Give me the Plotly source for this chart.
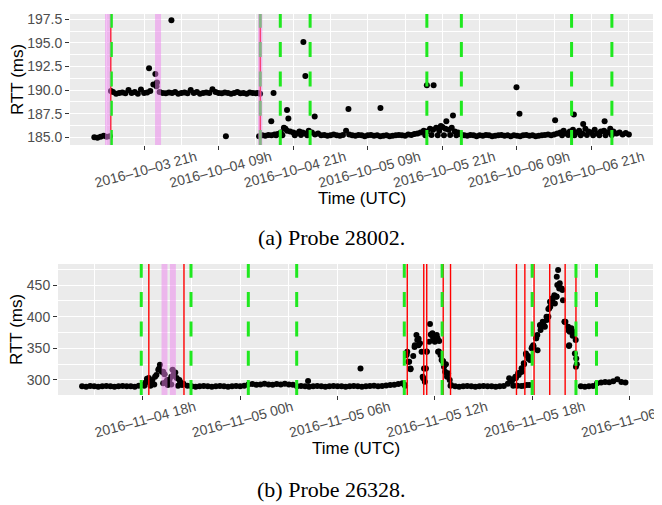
import pandas as pd
import plotly.graph_objects as go

# ---------------- Probe 28002 (panel a) ----------------
a_start = "2016-10-03 13:00"          # regular 30-min samples
a_rtt = [
    185.0, 184.95, 185.05, 185.15, 185.05, 185.1,
    189.8, 189.6, 189.7, 189.75, 189.65, 190.0, 189.7, 189.8, 189.6, 190.05,
    189.7, 189.75, 189.9, 190.6, 190.4, 189.8, 189.7, 189.65, 189.75, 189.7,
    189.8, 189.6, 189.7, 189.75, 189.65, 190.0, 189.7, 189.8, 189.6, 189.7,
    189.75, 189.7, 190.1, 189.8, 189.7, 189.65, 189.75, 189.7, 189.6, 189.7,
    189.8, 189.65, 189.7, 189.6, 189.75, 189.7, 189.65,
    185.1, 185.2, 185.15, 185.25, 185.2, 185.3, 185.35,
    185.5, 186.0, 185.7, 185.6, 185.5, 185.4, 185.6, 185.5, 185.4, 185.7, 185.5, 185.3, 185.4,
    185.2, 185.25, 185.15, 185.2, 185.3, 185.2, 185.15, 185.25, 185.7, 185.3, 185.2,
    185.15, 185.25, 185.2, 185.1, 185.2, 185.25, 185.15, 185.2, 185.1, 185.15, 185.2,
    185.1, 185.15, 185.2, 185.25, 185.2, 185.15, 185.3, 185.25, 185.35, 185.4, 185.5,
    185.7, 185.6, 185.9, 185.8, 186.0, 185.7, 186.1, 185.9, 185.8, 186.0, 185.6, 185.5, 185.3,
    185.2, 185.15, 185.25, 185.2, 185.1, 185.2, 185.15, 185.25, 185.2, 185.1, 185.15,
    185.2, 185.25, 185.15, 185.2, 185.1, 185.2, 185.15, 185.1, 185.2, 185.25, 185.15,
    185.2, 185.1, 185.15, 185.2, 185.25, 185.3, 185.2, 185.3, 185.4,
    185.5, 185.7, 185.4, 185.6, 185.8, 185.5, 185.7, 185.4, 185.9, 185.6,
    185.5, 185.8, 185.4, 185.6, 185.7, 185.5, 185.9, 185.6, 185.4, 185.5,
    185.3, 185.45, 185.3,
]
a_extra_time = [
    "2016-10-03 15:40", "2016-10-03 21:48", "2016-10-03 22:49", "2016-10-03 23:05",
    "2016-10-04 01:24", "2016-10-04 10:10", "2016-10-04 15:20", "2016-10-04 15:40",
    "2016-10-04 17:28", "2016-10-04 17:50", "2016-10-04 18:15", "2016-10-04 19:15",
    "2016-10-04 19:45", "2016-10-04 20:00", "2016-10-04 20:13", "2016-10-04 21:15",
    "2016-10-04 22:15", "2016-10-04 22:38", "2016-10-04 22:57", "2016-10-04 23:15",
    "2016-10-05 00:27", "2016-10-05 05:53", "2016-10-05 11:02", "2016-10-05 18:15",
    "2016-10-05 18:30", "2016-10-05 19:15", "2016-10-05 19:35", "2016-10-05 20:15",
    "2016-10-05 20:45", "2016-10-05 21:15", "2016-10-05 21:38", "2016-10-05 22:15",
    "2016-10-05 22:42", "2016-10-05 23:15", "2016-10-06 08:55", "2016-10-06 09:24",
    "2016-10-06 15:08", "2016-10-06 16:15", "2016-10-06 17:15", "2016-10-06 18:09",
    "2016-10-06 18:15", "2016-10-06 19:15", "2016-10-06 19:39", "2016-10-06 20:15",
    "2016-10-06 21:15", "2016-10-06 22:15", "2016-10-06 23:06", "2016-10-06 23:15",
    "2016-10-07 00:15",
]
a_extra_rtt = [
    189.9, 192.3, 191.7, 190.8,
    197.4, 185.1, 189.7, 189.6,
    186.7, 189.7, 185.2, 185.2,
    185.9, 187.9, 187.0, 185.2,
    185.25, 195.1, 191.5, 185.2,
    187.2, 188.0, 188.1, 185.2,
    190.5, 185.25, 190.5, 185.2,
    186.2, 185.2, 186.7, 185.25,
    187.3, 185.2, 190.3, 187.5,
    186.8, 185.2, 185.25, 187.4,
    185.2, 185.2, 186.4, 185.25,
    185.2, 185.2, 186.7, 185.2,
    185.25,
]
a_green = ["2016-10-03 15:44", "2016-10-04 15:42", "2016-10-04 18:55", "2016-10-04 23:43",
           "2016-10-05 18:30", "2016-10-06 00:03", "2016-10-06 17:47", "2016-10-07 00:16"]
a_red = ["2016-10-03 15:38", "2016-10-04 15:42"]
a_pink_start = ["2016-10-03 14:43", "2016-10-03 22:46", "2016-10-04 15:20"]
a_pink_end = ["2016-10-03 15:38", "2016-10-03 23:44", "2016-10-04 16:02"]
a_range = ["2016-10-03 09:05", "2016-10-07 06:53"]
a_yrange = [184.18, 198.06]

# ---------------- Probe 26328 (panel b) ----------------
b_start = "2016-11-04 14:15"          # regular 15-min samples
b_rtt = [
    290, 289.5, 290.5, 290, 289.5, 290, 290.5, 290, 289.5, 290, 290.5, 290, 290, 289.5, 291,
    292, 302, 297, 305, 318, 313, 300, 305, 312, 300, 294, 291,
    290, 289.5, 290, 290.5, 290, 289.5, 290, 290.5, 290, 289.5, 290, 290.5, 290, 291,
    293, 293.5, 292.5, 293, 294, 293, 292.5, 293.5, 293, 294, 293, 292.5,
    290, 290.5, 290, 289.5, 290, 290.5, 290, 289.5, 290, 290.5, 290, 290, 289.5,
    290, 290.5, 290, 289.5, 290, 290.5, 291, 290, 290.5, 291.5, 292, 292.5, 293.5,
    295, 340, 318, 352, 365, 305, 345, 372, 362, 345, 330, 310,
    292, 290, 289.5, 290, 290.5, 290, 289.5, 290, 290.5, 290, 290, 289.5, 290, 290.5, 294, 298, 303,
    312, 325, 338, 352, 366, 386, 385, 412, 428, 432, 445, 392, 378, 370, 325,
    290, 289.5, 290, 290.5, 295,
    296, 297, 296.5, 298, 301, 297, 296,
]
b_extra_time = [
    "2016-11-04 18:05", "2016-11-04 18:10", "2016-11-04 18:22", "2016-11-04 18:28",
    "2016-11-04 18:35", "2016-11-04 18:42", "2016-11-04 18:50", "2016-11-04 18:57",
    "2016-11-04 19:03", "2016-11-04 19:10", "2016-11-04 19:15", "2016-11-04 19:20",
    "2016-11-04 19:25", "2016-11-04 19:32", "2016-11-04 19:38", "2016-11-04 19:45",
    "2016-11-04 19:50", "2016-11-04 19:55", "2016-11-04 20:05", "2016-11-04 20:10",
    "2016-11-04 20:18", "2016-11-04 20:25",
    "2016-11-05 04:11", "2016-11-05 07:25",
    "2016-11-05 10:07", "2016-11-05 10:10", "2016-11-05 10:15", "2016-11-05 10:18",
    "2016-11-05 10:22", "2016-11-05 10:25", "2016-11-05 10:30", "2016-11-05 10:40",
    "2016-11-05 10:46", "2016-11-05 10:52", "2016-11-05 10:55", "2016-11-05 11:00",
    "2016-11-05 11:05", "2016-11-05 11:11", "2016-11-05 11:17", "2016-11-05 11:20",
    "2016-11-05 11:23", "2016-11-05 11:27", "2016-11-05 11:30", "2016-11-05 11:39",
    "2016-11-05 11:42", "2016-11-05 11:48", "2016-11-05 11:51", "2016-11-05 11:54",
    "2016-11-05 12:00", "2016-11-05 12:07", "2016-11-05 12:10", "2016-11-05 12:12",
    "2016-11-05 12:16", "2016-11-05 12:21", "2016-11-05 12:25", "2016-11-05 12:31",
    "2016-11-05 12:34", "2016-11-05 12:38", "2016-11-05 12:41", "2016-11-05 12:45",
    "2016-11-05 12:49", "2016-11-05 12:55", "2016-11-05 12:58",
    "2016-11-05 16:35", "2016-11-05 16:50", "2016-11-05 16:56", "2016-11-05 16:58",
    "2016-11-05 17:05", "2016-11-05 17:08", "2016-11-05 17:10", "2016-11-05 17:20",
    "2016-11-05 17:21", "2016-11-05 17:22", "2016-11-05 17:29", "2016-11-05 17:30",
    "2016-11-05 17:37", "2016-11-05 17:38", "2016-11-05 17:40", "2016-11-05 17:46",
    "2016-11-05 17:50", "2016-11-05 17:52", "2016-11-05 17:58", "2016-11-05 18:04",
    "2016-11-05 18:05", "2016-11-05 18:14", "2016-11-05 18:19", "2016-11-05 18:20",
    "2016-11-05 18:29", "2016-11-05 18:31", "2016-11-05 18:39", "2016-11-05 18:41",
    "2016-11-05 18:47", "2016-11-05 18:53", "2016-11-05 18:54", "2016-11-05 19:00",
    "2016-11-05 19:03", "2016-11-05 19:06", "2016-11-05 19:07", "2016-11-05 19:14",
    "2016-11-05 19:15", "2016-11-05 19:22", "2016-11-05 19:24", "2016-11-05 19:30",
    "2016-11-05 19:31", "2016-11-05 19:33", "2016-11-05 19:36", "2016-11-05 19:40",
    "2016-11-05 19:42", "2016-11-05 19:49", "2016-11-05 19:52", "2016-11-05 19:54",
    "2016-11-05 20:00", "2016-11-05 20:03", "2016-11-05 20:13", "2016-11-05 20:16",
    "2016-11-05 20:17", "2016-11-05 20:19", "2016-11-05 20:25", "2016-11-05 20:31",
    "2016-11-05 20:34", "2016-11-05 20:38", "2016-11-05 20:41", "2016-11-05 20:42",
    "2016-11-05 20:43",
]
b_extra_rtt = [
    291, 296, 303, 291,
    300, 293, 308, 316,
    324, 313, 295, 309,
    297, 292, 300, 293,
    316, 310, 303, 291,
    297, 292,
    298.4, 318,
    293, 291, 339.5, 344.7,
    329, 329, 317, 338,
    355, 371, 363, 355,
    358, 344.7, 302.6, 318,
    297.4, 318, 344.7, 360.5,
    388.4, 371, 373.7, 365.8,
    360.5, 371, 365.8, 344.7,
    361.6, 339.5, 331.6, 329,
    321, 313, 324.8, 305,
    310.6, 300, 291,
    302.6, 291, 302.6, 305,
    291, 310.6, 308, 290.5,
    318.4, 313, 326.3, 291,
    342, 339.5, 292, 334,
    292, 331.6, 350, 355,
    352.6, 365.8, 371, 347,
    386.8, 379, 392, 389.5,
    384, 400, 394.7, 400,
    413, 423.6, 415.8, 426,
    429, 434, 421, 431.5,
    463, 450, 473.7, 444.7,
    452.6, 444.7, 442, 426,
    392, 392, 384, 353.6,
    355, 376, 381.6, 376,
    371, 342, 363, 321,
    334,
]
b_green = ["2016-11-04 17:54", "2016-11-04 20:58", "2016-11-05 00:30", "2016-11-05 03:29",
           "2016-11-05 10:07", "2016-11-05 12:27", "2016-11-05 18:00", "2016-11-05 20:42",
           "2016-11-05 21:58"]
b_red = ["2016-11-04 18:22", "2016-11-04 20:32", "2016-11-05 10:18", "2016-11-05 11:19",
         "2016-11-05 11:30", "2016-11-05 12:31", "2016-11-05 12:58", "2016-11-05 17:02",
         "2016-11-05 17:33", "2016-11-05 18:07", "2016-11-05 19:05", "2016-11-05 20:02",
         "2016-11-05 20:42"]
b_pink_start = ["2016-11-04 19:09", "2016-11-04 19:40"]
b_pink_end = ["2016-11-04 19:31", "2016-11-04 20:02"]
b_range = ["2016-11-04 12:46", "2016-11-06 01:27"]
b_yrange = [276.3, 483.2]

# ---------------- figure ----------------
# the page body has the browser's default 8px margin: size the figure to fit the window
OFF = 8
W, H = 662 - OFF, 505 - OFF
FONT = "Liberation Sans, Arial, sans-serif"
GREEN = "#1fe81f"
MS = 6


def px(x):
    return (x - OFF) / W


def py(y):
    return 1 - (y - OFF) / H


a_times = pd.date_range(a_start, periods=len(a_rtt), freq="30min")
b_times = pd.date_range(b_start, periods=len(b_rtt), freq="15min")

fig = go.Figure()
mk = dict(color="black", size=MS, line=dict(width=0))
fig.add_trace(go.Scatter(x=a_times, y=a_rtt, mode="markers", marker=mk, xaxis="x", yaxis="y"))
fig.add_trace(go.Scatter(x=pd.to_datetime(a_extra_time), y=a_extra_rtt, mode="markers", marker=mk,
                         xaxis="x", yaxis="y"))
fig.add_trace(go.Scatter(x=b_times, y=b_rtt, mode="markers", marker=mk, xaxis="x2", yaxis="y2"))
fig.add_trace(go.Scatter(x=pd.to_datetime(b_extra_time), y=b_extra_rtt, mode="markers", marker=mk,
                         xaxis="x2", yaxis="y2"))

shapes = []
for xr, yr, reds, greens, ps, pe in [("x", "y domain", a_red, a_green, a_pink_start, a_pink_end),
                                     ("x2", "y2 domain", b_red, b_green, b_pink_start, b_pink_end)]:
    for t in reds:
        shapes.append(dict(type="line", xref=xr, yref=yr, x0=t, x1=t, y0=0, y1=1,
                           line=dict(color="red", width=1.4), layer="above"))
    for t in greens:
        shapes.append(dict(type="line", xref=xr, yref=yr, x0=t, x1=t, y0=0, y1=1,
                           line=dict(color=GREEN, width=3, dash="15px,14.3px"), layer="above"))
    for s, e in zip(ps, pe):
        shapes.append(dict(type="rect", xref=xr, yref=yr, x0=s, x1=e, y0=0, y1=1,
                           fillcolor="violet", opacity=0.5, line=dict(width=0), layer="above"))


def xaxis_cfg(dom, anchor, rng, tick0, dtick_h, mdtick_h):
    return dict(domain=dom, anchor=anchor, type="date", range=rng, tickmode="linear",
                tick0=tick0, dtick=dtick_h * 3600000, tickformat="%Y–%m–%d %Hh",
                tickangle=-15, ticks="outside", ticklen=4, tickwidth=1, tickcolor="#333333",
                tickfont=dict(family=FONT, size=14, color="#4d4d4d"), ticklabelshift=52,
                ticklabelstandoff=-6, ticklabeloverflow="allow",
                showgrid=True, gridcolor="white", gridwidth=1.3, zeroline=False, showline=False,
                automargin=False,
                minor=dict(tick0=tick0, dtick=mdtick_h * 3600000, showgrid=True,
                           gridcolor="white", gridwidth=0.6, ticks=""))


def yaxis_cfg(dom, anchor, rng, dtick, fmt):
    return dict(domain=dom, anchor=anchor, range=rng, tickmode="linear", tick0=0, dtick=dtick,
                tickformat=fmt, ticks="outside", ticklen=4, tickwidth=1, tickcolor="#333333",
                tickfont=dict(family=FONT, size=14, color="#4d4d4d"),
                showgrid=True, gridcolor="white", gridwidth=1.3, zeroline=False, showline=False,
                automargin=False,
                minor=dict(dtick=dtick / 2, showgrid=True, gridcolor="white", gridwidth=0.6, ticks=""))


annotations = [
    dict(text="RTT (ms)", x=px(17.5), y=py(79.5), textangle=-90),
    dict(text="RTT (ms)", x=px(16.5), y=py(329.5), textangle=-90),
    dict(text="Time (UTC)", x=px(361.5), y=py(198)),
    dict(text="Time (UTC)", x=px(355.5), y=py(448)),
]
for a in annotations:
    a.update(xref="paper", yref="paper", showarrow=False, xanchor="center", yanchor="middle",
             font=dict(family=FONT, size=17, color="black"))
for txt, yy in [("(a) Probe 28002.", 237), ("(b) Probe 26328.", 489)]:
    annotations.append(dict(text=txt, x=px(331), y=py(yy), xref="paper", yref="paper",
                            showarrow=False, xanchor="center", yanchor="middle",
                            font=dict(family="Liberation Serif, Times New Roman, serif",
                                      size=22, color="black")))

fig.update_layout(
    width=W, height=H, margin=dict(l=0, r=0, t=0, b=0),
    paper_bgcolor="white", plot_bgcolor="#ebebeb", showlegend=False,
    xaxis=xaxis_cfg([px(70), px(653)], "y", a_range, "2016-10-03 21:00", 12, 6),
    yaxis=yaxis_cfg([py(145), py(14)], "x", a_yrange, 2.5, ".1f"),
    xaxis2=xaxis_cfg([px(58), px(653)], "y2", b_range, "2016-11-04 18:00", 6, 3),
    yaxis2=yaxis_cfg([py(395), py(264)], "x2", b_yrange, 50, "d"),
    shapes=shapes, annotations=annotations,
)

fig.write_html("out.html")
